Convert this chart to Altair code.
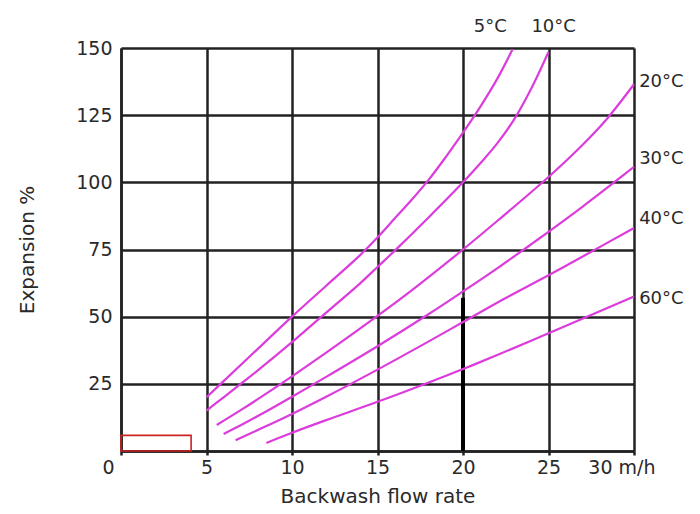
import altair as alt
import pandas as pd

# ---- data ----
x_ticks = [0, 5, 10, 15, 20, 25, 30]
y_ticks = [0, 25, 50, 75, 100, 125, 150]

t5_x = [5.0, 6, 8, 10, 12, 14, 15, 16, 17, 18, 19, 20, 21, 22, 22.9]
t5_y = [20, 26, 38, 50, 61.5, 73, 79.5, 86.5, 93.5, 101, 109.5, 118.5, 128, 138.5, 149.5]

t10_x = [5.0, 6, 7, 8, 10, 11, 12, 14, 15, 16, 18, 20, 21, 22, 23, 24, 25]
t10_y = [15, 20, 25, 30, 40.5, 46, 51.5, 62.5, 68.5, 74.5, 87, 100, 107, 114.5, 123.5, 135, 148.5]

t20_x = [5.6, 7, 8, 10, 12, 15, 17, 20, 22, 25, 27, 28.4, 30]
t20_y = [9.7, 15.2, 19.3, 27.8, 36.6, 50.3, 59.8, 75, 85.6, 102, 114, 123.5, 136.5]

t30_x = [6.0, 7, 8, 10, 12, 15, 18, 20, 22, 24, 25, 27, 29, 30]
t30_y = [6.3, 9.6, 13, 20.2, 27.6, 39, 51, 59.4, 68, 77, 81.6, 91, 100.8, 105.8]

t40_x = [6.7, 8, 10, 12, 15, 18, 20, 22, 25, 27, 30]
t40_y = [4, 7.8, 13.8, 20.2, 30.3, 40.8, 48, 55.2, 65.4, 72.4, 83]

t60_x = [8.5, 10, 12, 15, 18, 20, 22, 25, 28, 30]
t60_y = [3, 6.8, 11.5, 18.3, 25.5, 30.5, 35.7, 43.8, 52, 57.5]

curve_names = ["5°C", "10°C", "20°C", "30°C", "40°C", "60°C"]
curve_xs = [t5_x, t10_x, t20_x, t30_x, t40_x, t60_x]
curve_ys = [t5_y, t10_y, t20_y, t30_y, t40_y, t60_y]

# temperature labels
lab_text = ["5°C", "10°C", "20°C", "30°C", "40°C", "60°C"]
lab_x = [21.6, 25.3, 30.3, 30.3, 30.3, 30.3]
lab_y = [158, 158, 137.5, 108.5, 86.5, 56.5]
lab_align = ["center", "center", "left", "left", "left", "left"]

# bold segment on the 20 m/h line
bold_x = [20]
bold_y0 = [0]
bold_y1 = [57]

# small red box at the origin
box_x0 = [0]
box_x1 = [4.1]
box_y0 = [0]
box_y1 = [5.8]

# ---- tables ----
rows = []
for name, xs, ys in zip(curve_names, curve_xs, curve_ys):
    for i, (a, b) in enumerate(zip(xs, ys)):
        rows.append({"curve": name, "order": i, "x": a, "y": b})
curves = pd.DataFrame(rows)
labels = pd.DataFrame({"text": lab_text, "x": lab_x, "y": lab_y, "align": lab_align})
bold = pd.DataFrame({"x": bold_x, "y0": bold_y0, "y1": bold_y1})
box = pd.DataFrame({"x0": box_x0, "x1": box_x1, "y0": box_y0, "y1": box_y1})

FONT = "DejaVu Sans"
GRID = "#222222"
TXT = "#2a2a2a"

xscale = alt.Scale(domain=[0, 30], nice=False, zero=False)
yscale = alt.Scale(domain=[0, 150], nice=False, zero=False)

xaxis = alt.Axis(
    values=x_ticks, grid=True, gridColor=GRID, gridWidth=2.5, gridOpacity=1,
    domain=True, domainColor=GRID, domainWidth=2.5,
    ticks=True, tickSize=4, tickColor=GRID, tickWidth=2.5,
    labelFont=FONT, labelFontSize=19, labelColor=TXT, labelPadding=3,
    labelExpr="datum.value == 30 ? '30 m/h' : datum.label",
    labelOffset={"condition": [{"test": "datum.value == 0", "value": -19},
                               {"test": "datum.value == 30", "value": 21}],
                 "value": 0},
    title="Backwash flow rate", titleFont=FONT, titleFontSize=20,
    titleFontWeight="normal", titleColor=TXT, titlePadding=9,
)
yaxis = alt.Axis(
    values=y_ticks, grid=True, gridColor=GRID, gridWidth=2.5, gridOpacity=1,
    domain=True, domainColor=GRID, domainWidth=2.5,
    ticks=False, labelFont=FONT, labelFontSize=19, labelColor=TXT, labelPadding=9,
    labelExpr="datum.value == 0 ? '' : datum.label",
    title="Expansion %", titleFont=FONT, titleFontSize=20,
    titleFontWeight="normal", titleColor=TXT, titlePadding=38,
)

base_lines = alt.Chart(curves).mark_line(
    color="#dc3cdc", strokeWidth=2.2, interpolate="catmull-rom"
).encode(
    x=alt.X("x:Q", scale=xscale, axis=xaxis),
    y=alt.Y("y:Q", scale=yscale, axis=yaxis),
    detail="curve:N",
    order="order:Q",
)

bold_rule = alt.Chart(bold).mark_rule(color="#000000", strokeWidth=4).encode(
    x=alt.X("x:Q", scale=xscale),
    y=alt.Y("y0:Q", scale=yscale),
    y2="y1:Q",
)

box_mark = alt.Chart(box).mark_rect(
    fill=None, fillOpacity=0, stroke="#cc2222", strokeWidth=1.6
).encode(
    x=alt.X("x0:Q", scale=xscale), x2="x1:Q",
    y=alt.Y("y0:Q", scale=yscale), y2="y1:Q",
)

text_left = alt.Chart(labels[labels["align"] == "left"]).mark_text(
    font=FONT, fontSize=18, color=TXT, align="left", baseline="middle"
).encode(x=alt.X("x:Q", scale=xscale), y=alt.Y("y:Q", scale=yscale), text="text:N")

text_center = alt.Chart(labels[labels["align"] == "center"]).mark_text(
    font=FONT, fontSize=18, color=TXT, align="center", baseline="middle"
).encode(x=alt.X("x:Q", scale=xscale), y=alt.Y("y:Q", scale=yscale), text="text:N")

chart = alt.layer(box_mark, bold_rule, base_lines, text_left, text_center).properties(
    width=513, height=403,
    autosize=alt.AutoSizeParams(type="none"),
    padding={"left": 113, "top": 40, "right": 50, "bottom": 55},
    background="white",
).configure_view(stroke=None)

chart.save("out.html", embed_options={"renderer": "svg", "actions": False})
